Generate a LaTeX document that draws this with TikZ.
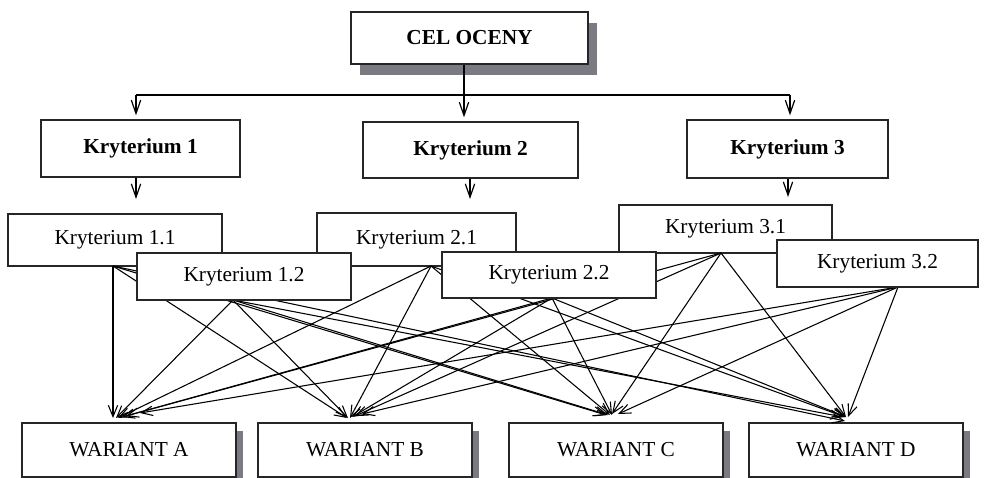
\documentclass[tikz,border=0pt]{standalone}
\usepackage{fontspec}
\setmainfont{Liberation Serif}
\usetikzlibrary{arrows.meta,calc,shadows}
\definecolor{shadowgray}{RGB}{122,122,130}
\begin{document}
\begin{tikzpicture}[x=0.75pt,y=-0.75pt,
  box/.style={draw=black!85, line width=1pt, fill=white, inner sep=0pt,
    font=\fontsize{16}{19}\selectfont},
  bbox/.style={box, font=\fontsize{16}{19}\selectfont\bfseries},
  sz/.style 2 args={minimum width=#1*0.75pt, minimum height=#2*0.75pt},
  celshadow/.style={drop shadow={shadow xshift=6.75pt, shadow yshift=-8.25pt, fill=shadowgray, opacity=1}},
  varshadow/.style={drop shadow={shadow xshift=5.25pt, shadow yshift=-6pt, fill=shadowgray, opacity=1}},
  link/.style={line width=1.1pt},
  arr/.style={line width=0.9pt, -{Straight Barb[length=10pt,width=7pt]}},
  edge/.style={line width=0.8pt, -{Straight Barb[length=8.5pt,width=7pt]}}]
\useasboundingbox (0,0) rectangle (985,478);
\clip (0,0) rectangle (985,478);

% top level
\node[bbox, sz={237}{52}, celshadow] (cel) at (469.5,38) {CEL OCENY};
\node[bbox, sz={199}{57}] (k1) at (140.5,148.5) {Kryterium 1};
\node[bbox, sz={215}{56}] (k2) at (470.5,150) {Kryterium 2};
\node[bbox, sz={201}{58}] (k3) at (787.5,149) {Kryterium 3};

\coordinate (hub) at (464,95);
\coordinate (h1) at (136,95);
\coordinate (h3) at (790,95);
\draw[link] (cel.south -| hub) -- (hub);
\draw[link] (h1) -- (h3);
\draw[arr, shorten >=3pt] (h1) -- (k1.north -| h1);
\draw[arr, shorten >=3pt] (hub) -- (k2.north -| hub);
\draw[arr, shorten >=3pt] (h3) -- (k3.north -| h3);

\coordinate (a1) at (136,199);
\coordinate (a2) at (470,199);
\coordinate (a3) at (788,197);
\draw[arr] (k1.south -| a1) -- (a1);
\draw[arr] (k2.south -| a2) -- (a2);
\draw[arr] (k3.south -| a3) -- (a3);

% first row of sub-criteria
\node[box, sz={214}{52}] (k11) at (115,240) {Kryterium 1.1};
\node[box, sz={199}{53}] (k21) at (416.5,239.5) {Kryterium 2.1};
\node[box, sz={213}{48}] (k31) at (725.5,229) {Kryterium 3.1};

% variants
\node[box, sz={214}{54}, varshadow] (wA) at (129,450) {WARIANT A};
\node[box, sz={214}{54}, varshadow] (wB) at (365,450) {WARIANT B};
\node[box, sz={214}{54}, varshadow] (wC) at (616,450) {WARIANT C};
\node[box, sz={214}{54}, varshadow] (wD) at (856,450) {WARIANT D};

% sources
\coordinate (s11) at (113,266);
\coordinate (s12) at (233,300);
\coordinate (s21) at (431,266);
\coordinate (s22) at (552,298);
\coordinate (s31) at (721,253);
\coordinate (s32) at (898,287);

% targets
\coordinate (tA11) at (113,418);
\coordinate (tA12) at (116,418);
\coordinate (tA21) at (118,418);
\coordinate (tA22) at (122,417);
\coordinate (tA31) at (126,416);
\coordinate (tA32) at (140,413);
\coordinate (tB11) at (347,418);
\coordinate (tB12) at (348,418);
\coordinate (tB21) at (350,418);
\coordinate (tB22) at (352,417);
\coordinate (tB31) at (355,416);
\coordinate (tB32) at (362,414);
\coordinate (tC11) at (606,415);
\coordinate (tC12) at (608,415);
\coordinate (tC21) at (610,415);
\coordinate (tC22) at (612,415);
\coordinate (tC31) at (612,414);
\coordinate (tC32) at (618,414);
\coordinate (tD11) at (845,421);
\coordinate (tD12) at (843,417);
\coordinate (tD21) at (845,417);
\coordinate (tD22) at (846,417);
\coordinate (tD31) at (846,417);
\coordinate (tD32) at (848,417);

\foreach \s in {11,12,21,22,31,32}{
  \foreach \v in {A,B,C,D}{
    \draw[edge] (s\s) -- (t\v\s);
  }
}

% second row of sub-criteria (on top)
\node[box, sz={214}{47}] (k12) at (244,276.5) {Kryterium 1.2};
\node[box, sz={214}{46}] (k22) at (549,275) {Kryterium 2.2};
\node[box, sz={201}{47}] (k32) at (877.5,263.5) {Kryterium 3.2};
\end{tikzpicture}
\end{document}
